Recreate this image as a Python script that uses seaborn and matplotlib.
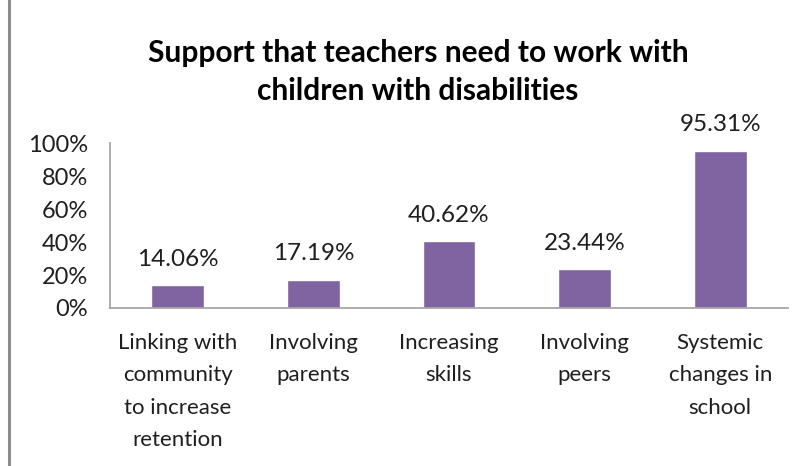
import matplotlib
matplotlib.use("Agg")
import matplotlib.pyplot as plt
from matplotlib.patches import Rectangle
from matplotlib.ticker import FuncFormatter
import seaborn as sns
import pandas as pd

categories = [
    "Linking with\ncommunity\nto increase\nretention",
    "Involving\nparents",
    "Increasing\nskills",
    "Involving\npeers",
    "Systemic\nchanges in\nschool",
]
values = [14.06, 17.19, 40.62, 23.44, 95.31]
yticks = [0, 20, 40, 60, 80, 100]
title = "Support that teachers need to work with\nchildren with disabilities"

sns.set_theme(style="white")
plt.rcParams["font.family"] = ["Lato", "DejaVu Sans"]

W, H = 802, 466
fig = plt.figure(figsize=(W / 100, H / 100), dpi=100)
ax = fig.add_axes([110 / W, 1 - 308 / H, (788 - 110) / W, (308 - 143) / H])

df = pd.DataFrame({"category": categories, "value": values})
sns.barplot(data=df, x="category", y="value", color="#8064A2", saturation=1,
            width=0.39, ax=ax)

text_color = "#1f1f1f"
ax.set_xlim(-0.5, len(categories) - 0.5)
ax.set_ylim(0, 100)
ax.set_yticks(yticks)
ax.yaxis.set_major_formatter(FuncFormatter(lambda v, _: f"{v:.0f}%"))
ax.set_xlabel("")
ax.set_ylabel("")
ax.tick_params(axis="y", length=0, pad=16, labelsize=17, labelcolor=text_color)
ax.tick_params(axis="x", length=0, pad=18, labelsize=16, labelcolor=text_color)
for lbl in ax.get_xticklabels():
    lbl.set_linespacing(1.78)

for side in ["top", "right"]:
    ax.spines[side].set_visible(False)
for side in ["left", "bottom"]:
    ax.spines[side].set_color("#a6a6a6")
    ax.spines[side].set_linewidth(1.3)

ax.bar_label(ax.containers[0], labels=[f"{v:.2f}%" for v in values],
             padding=11, fontsize=17.5, color=text_color)

fig.text(418 / W, 1 - 72 / H, title, ha="center", va="center", fontsize=21.5,
         fontweight="bold", color="#000000", linespacing=1.43)

# chart frame
fig.patches.append(Rectangle((8.5 / W, -0.2), 1.2, 1.2 + (1 - 11 / H),
                             transform=fig.transFigure, fill=False,
                             edgecolor="#8c8c8c", linewidth=2.2))

fig.savefig("out.png", dpi=100)
